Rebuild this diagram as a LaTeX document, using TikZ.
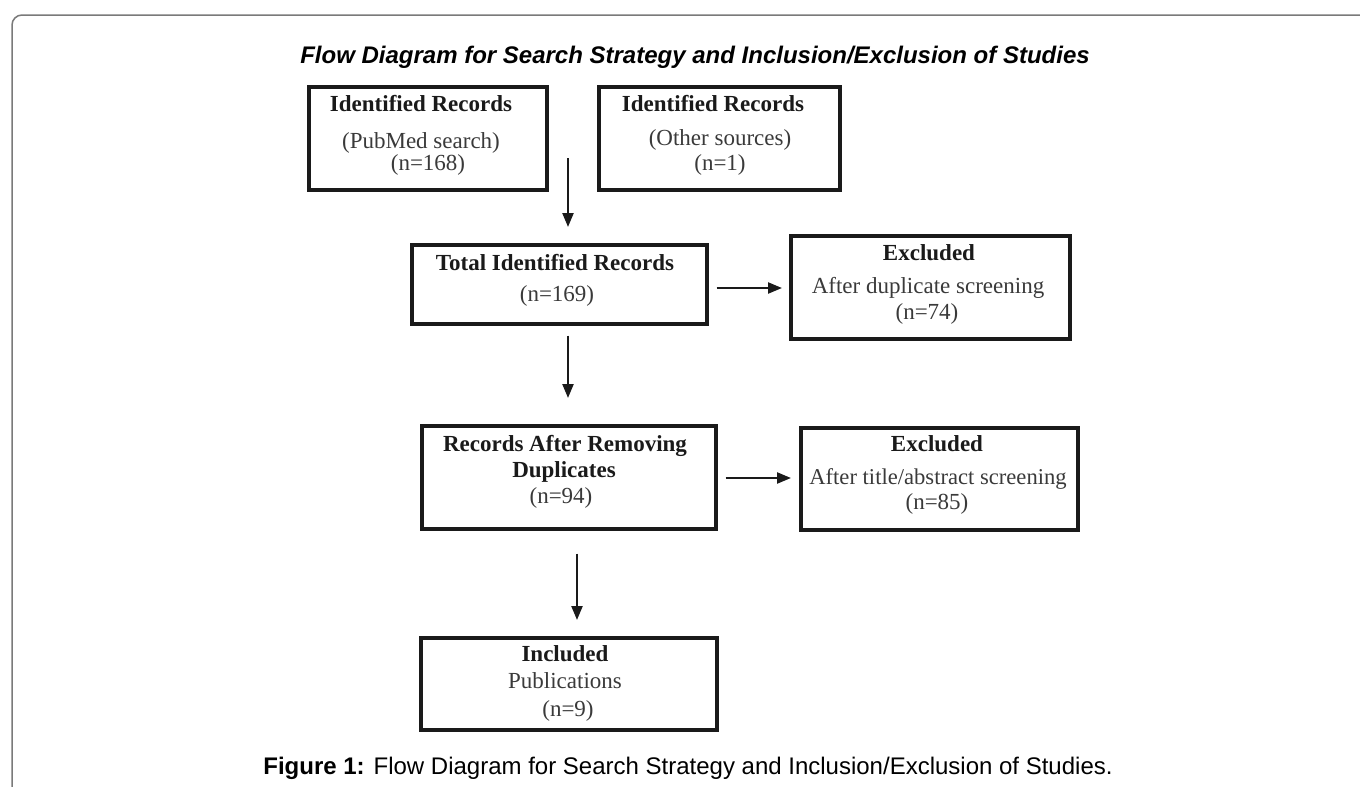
\documentclass[tikz,border=0pt]{standalone}
\usepackage{fontspec}
\setmainfont{Liberation Serif}
\newfontfamily\arialfont{Liberation Sans}
\usetikzlibrary{arrows.meta}
\definecolor{boxc}{HTML}{1A1A1A}
\definecolor{framec}{HTML}{7A7A7A}
\definecolor{boldc}{HTML}{1A1A1A}
\definecolor{regc}{HTML}{3A3A3A}
\begin{document}
\begin{tikzpicture}[x=1pt,y=-1pt,
  box/.style={draw=boxc, line width=3.6pt, inner sep=0pt, anchor=north west},
  lb/.style={anchor=base, inner sep=0pt, text=boldc, font=\fontsize{23}{27}\selectfont\bfseries},
  lr/.style={anchor=base, inner sep=0pt, text=regc, font=\fontsize{23}{27}\selectfont},
  arr/.style={draw=boxc, line width=2.3pt, -{Triangle[length=14pt,width=11pt]}}
]
\useasboundingbox (0,0) rectangle (1360,787);
\clip (0,0) rectangle (1360,787);
\fill[white] (0,0) rectangle (1360,787);
% outer frame
\draw[framec, line width=1.5pt, rounded corners=10pt] (1400,15) -- (12,15) -- (12,820);

% title
\node[anchor=base, inner sep=0pt, font=\arialfont\fontsize{24}{28}\selectfont\bfseries\itshape] (title) at (695,63)
  {Flow Diagram for Search Strategy and Inclusion/Exclusion of Studies};

% boxes
\node[box, minimum width=238pt, minimum height=103pt] (b1) at (307,85) {};
\node[box, minimum width=241pt, minimum height=103pt] (b2) at (597,85) {};
\node[box, minimum width=295pt, minimum height=79pt]  (b3) at (410,243) {};
\node[box, minimum width=279pt, minimum height=103pt] (b4) at (789,234) {};
\node[box, minimum width=294pt, minimum height=103pt] (b5) at (420,424) {};
\node[box, minimum width=277pt, minimum height=102pt] (b6) at (799,426) {};
\node[box, minimum width=296pt, minimum height=92pt]  (b7) at (419,636) {};

% box texts
\node[lb] (t1a) at (421,111.5) {Identified Records};
\node[lr] (t1b) at (421,148.5) {(PubMed search)};
\node[lr] (t1c) at (428,170.5) {(n=168)};

\node[lb] (t2a) at (713,111.5) {Identified Records};
\node[lr] (t2b) at (720,145.5) {(Other sources)};
\node[lr] (t2c) at (720,170.5) {(n=1)};

\node[lb] (t3a) at (555,270) {Total Identified Records};
\node[lr] (t3b) at (557,301.5) {(n=169)};

\node[lb] (t4a) at (929,260.5) {Excluded};
\node[lr] (t4b) at (928,293.5) {After duplicate screening};
\node[lr] (t4c) at (927,319) {(n=74)};

\node[lb] (t5a) at (565,451.5) {Records After Removing};
\node[lb] (t5b) at (564,477.5) {Duplicates};
\node[lr] (t5c) at (561,503.5) {(n=94)};

\node[lb] (t6a) at (937,451.5) {Excluded};
\node[lr, font=\fontsize{22.6}{27}\selectfont] (t6b) at (938,484) {After title/abstract screening};
\node[lr] (t6c) at (937,509) {(n=85)};

\node[lb] (t7a) at (565,661.5) {Included};
\node[lr] (t7b) at (565,688.5) {Publications};
\node[lr] (t7c) at (568,716.5) {(n=9)};

% connectors
\coordinate (a1s) at (568,158);
\coordinate (ax) at (568,0);
\coordinate (ax3) at (577,0);
\draw[arr, shorten >=16pt] (a1s) -- (b3.north -| a1s);
\draw[arr, shorten <=10pt, shorten >=26pt] (b3.south -| ax) -- (b5.north -| ax);
\draw[arr, shorten <=23pt, shorten >=16pt] (b5.south -| ax3) -- (b7.north -| ax3);
\coordinate (h1) at (0,288);
\coordinate (h2) at (0,478);
\draw[arr, shorten <=8pt, shorten >=7pt] (b3.east |- h1) -- (b4.west |- h1);
\draw[arr, shorten <=8pt, shorten >=8pt] (b5.east |- h2) -- (b6.west |- h2);

% caption
\node[anchor=base, inner sep=0pt, font=\arialfont\fontsize{24}{28}\selectfont] (cap) at (688,774)
  {\textbf{Figure 1:} Flow Diagram for Search Strategy and Inclusion/Exclusion of Studies.};
\end{tikzpicture}
\end{document}
